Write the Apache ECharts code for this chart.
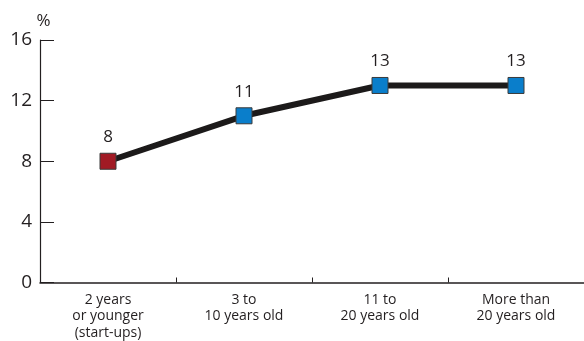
<!DOCTYPE html>
<html>
<head>
<meta charset="utf-8">
<script src="https://cdn.jsdelivr.net/npm/echarts@6/dist/echarts.min.js"></script>
<style>
  html, body { margin: 0; padding: 0; background: #fff; }
  #chart { width: 584px; height: 341px; }
</style>
</head>
<body>
<div id="chart"></div>
<script>
// Share by company age group, in percent
const categories = ['2 years\nor younger\n(start-ups)', '3 to\n10 years old', '11 to\n20 years old', 'More than\n20 years old'];
const values = [8, 11, 13, 13];
const markerColors = ['#a11a24', '#0a7ecb', '#0a7ecb', '#0a7ecb'];
const yTicks = { min: 0, max: 16, interval: 4 };

const FONT = '"Open Sans", sans-serif';
const TEXT = '#231f20';

const chart = echarts.init(document.getElementById('chart'), null, { renderer: 'canvas' });

chart.setOption({
  animation: false,
  backgroundColor: '#ffffff',
  grid: { left: 40, right: 0, top: 40, bottom: 58, containLabel: false },
  xAxis: {
    type: 'category',
    data: categories,
    boundaryGap: true,
    axisLine: { show: true, lineStyle: { color: '#231f20', width: 1.5 } },
    axisTick: { show: true, inside: true, length: 5, lineStyle: { color: '#231f20', width: 1 } },
    axisLabel: {
      color: TEXT, fontFamily: FONT, fontSize: 14, lineHeight: 16.5, margin: 9,
      interval: 0
    },
    splitLine: { show: false }
  },
  yAxis: {
    type: 'value',
    min: yTicks.min, max: yTicks.max, interval: yTicks.interval,
    name: '%',
    nameLocation: 'end',
    nameGap: 10,
    nameTextStyle: { color: TEXT, fontFamily: FONT, fontSize: 17, align: 'center', padding: [0, 0, 0, 7] },
    axisLine: { show: true, lineStyle: { color: '#231f20', width: 1.2 } },
    axisTick: { show: true, inside: true, length: 14, lineStyle: { color: '#231f20', width: 1 } },
    axisLabel: { color: TEXT, fontFamily: FONT, fontSize: 19, margin: 8 },
    splitLine: { show: false }
  },
  series: [{
    type: 'line',
    data: values.map((v, i) => ({ value: v, itemStyle: { color: markerColors[i] } })),
    lineStyle: { color: '#1c1a1a', width: 6 },
    symbol: 'rect',
    symbolSize: 16,
    itemStyle: { borderColor: '#3a3a3a', borderWidth: 1 },
    label: {
      show: true, position: 'top', distance: 7,
      color: TEXT, fontFamily: FONT, fontSize: 17
    },
    z: 3
  }]
});
</script>
</body>
</html>
